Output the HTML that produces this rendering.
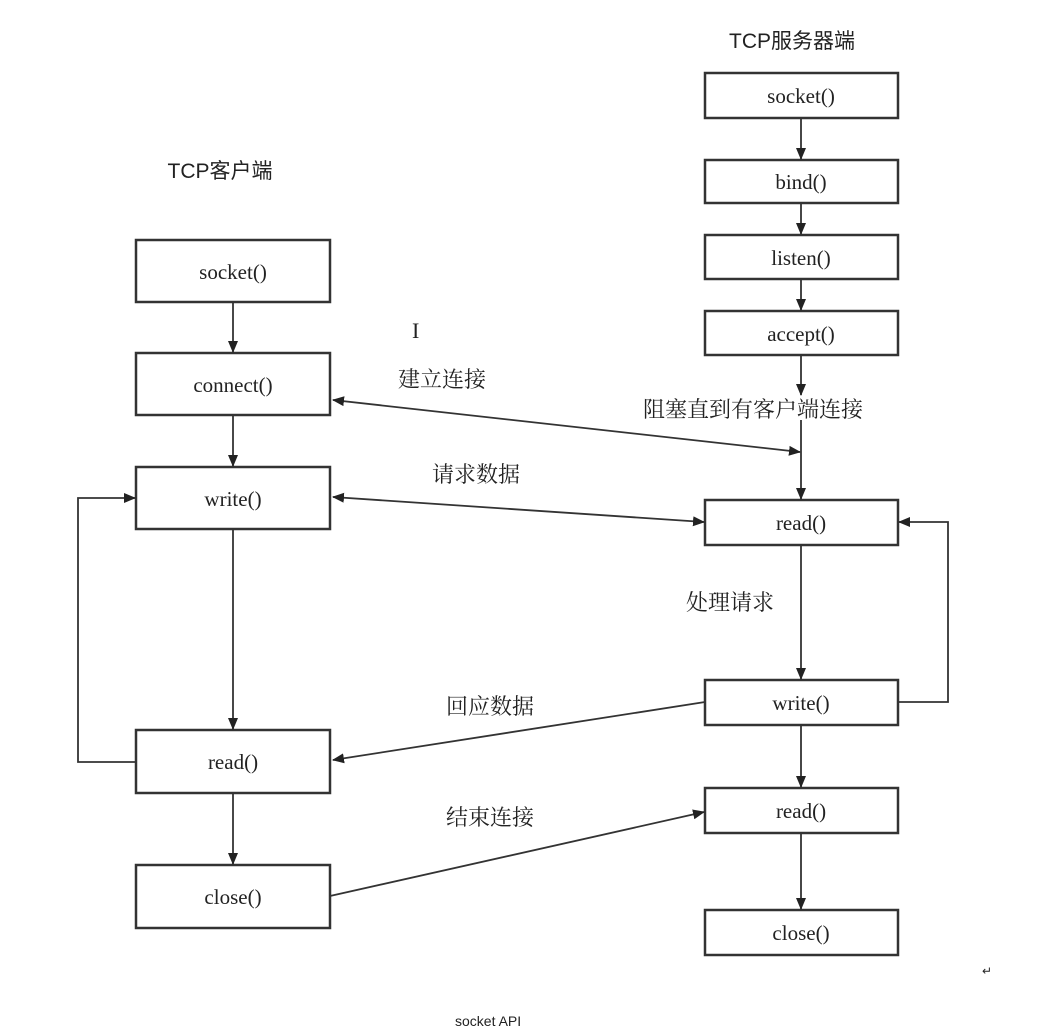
<!DOCTYPE html>
<html><head><meta charset="utf-8"><style>
html,body{margin:0;padding:0;background:#fff}
svg text{font-family:"Liberation Serif","Noto Serif CJK SC",serif;fill:#222}
.cn{font-family:"Liberation Sans","Noto Sans CJK SC",sans-serif}
</style></head><body>
<svg width="1042" height="1026" viewBox="0 0 1042 1026" xmlns="http://www.w3.org/2000/svg">
<defs><marker id="a" markerWidth="12" markerHeight="12" refX="11" refY="6" orient="auto-start-reverse" markerUnits="userSpaceOnUse"><path d="M0,1 L12,6 L0,11 z" fill="#222"/></marker></defs>
<g fill="none" stroke="#333" stroke-width="2.5">
<rect x="136" y="240" width="194" height="62"/>
<rect x="136" y="353" width="194" height="62"/>
<rect x="136" y="467" width="194" height="62"/>
<rect x="136" y="730" width="194" height="63"/>
<rect x="136" y="865" width="194" height="63"/>
<rect x="705" y="73" width="193" height="45"/>
<rect x="705" y="160" width="193" height="43"/>
<rect x="705" y="235" width="193" height="44"/>
<rect x="705" y="311" width="193" height="44"/>
<rect x="705" y="500" width="193" height="45"/>
<rect x="705" y="680" width="193" height="45"/>
<rect x="705" y="788" width="193" height="45"/>
<rect x="705" y="910" width="193" height="45"/>
</g>
<g stroke="#333" stroke-width="1.8" fill="none" marker-end="url(#a)">
<line x1="233" y1="302" x2="233" y2="352"/>
<line x1="233" y1="415" x2="233" y2="466"/>
<line x1="233" y1="529" x2="233" y2="729"/>
<line x1="233" y1="793" x2="233" y2="864"/>
<polyline points="136,762 78,762 78,498 135,498"/>
<line x1="801" y1="118" x2="801" y2="159"/>
<line x1="801" y1="203" x2="801" y2="234"/>
<line x1="801" y1="279" x2="801" y2="310"/>
<line x1="801" y1="355" x2="801" y2="395"/>
<line x1="801" y1="420" x2="801" y2="499"/>
<line x1="801" y1="545" x2="801" y2="679"/>
<line x1="801" y1="725" x2="801" y2="787"/>
<line x1="801" y1="833" x2="801" y2="909"/>
<polyline points="898,702 948,702 948,522 899,522"/>
<line x1="333" y1="400" x2="800" y2="452" marker-start="url(#a)"/>
<line x1="333" y1="497" x2="704" y2="522" marker-start="url(#a)"/>
<line x1="705" y1="702" x2="333" y2="760"/>
<line x1="330" y1="896" x2="704" y2="812"/>
</g>
<g font-size="21" text-anchor="middle">
<text x="233" y="279">socket()</text>
<text x="233" y="392">connect()</text>
<text x="233" y="506">write()</text>
<text x="233" y="769">read()</text>
<text x="233" y="904">close()</text>
<text x="801" y="103">socket()</text>
<text x="801" y="189">bind()</text>
<text x="801" y="265">listen()</text>
<text x="801" y="341">accept()</text>
<text x="801" y="530">read()</text>
<text x="801" y="710">write()</text>
<text x="801" y="818">read()</text>
<text x="801" y="940">close()</text>
<text x="220" y="178" class="cn" font-size="21">TCP客户端</text>
<text x="792" y="48" class="cn" font-size="21">TCP服务器端</text>
</g>
<g class="cn" font-size="22">
<text x="398" y="387">建立连接</text>
<text x="643" y="417">阻塞直到有客户端连接</text>
<text x="432" y="482">请求数据</text>
<text x="686" y="610">处理请求</text>
<text x="446" y="714">回应数据</text>
<text x="446" y="825">结束连接</text>
</g>
<text x="412" y="338" font-size="22">I</text>
<text x="455" y="1026" font-size="14" class="cn">socket API</text>
<text x="982" y="975" font-size="12" fill="#999">↵</text>
</svg>
</body></html>
